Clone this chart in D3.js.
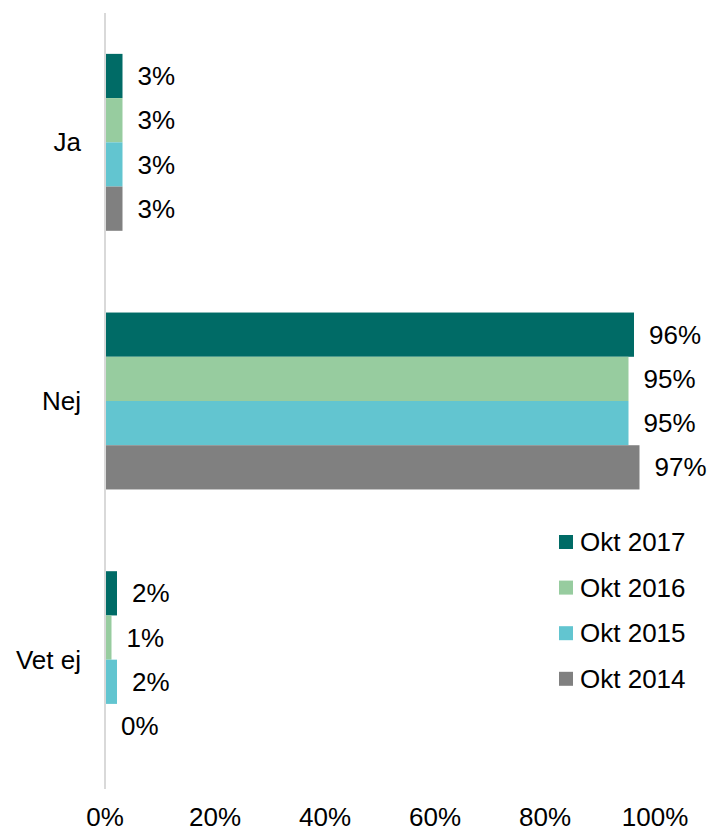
<!DOCTYPE html>
<html>
<head>
<meta charset="utf-8">
<script src="https://cdn.jsdelivr.net/npm/d3@7"></script>
<style>
  body { margin: 0; background: #fff; }
  text { font-family: "Liberation Sans", Arial, sans-serif; fill: #000; }
</style>
</head>
<body>
<svg id="chart" width="707" height="832"></svg>
<script>
const categories = ["Ja", "Nej", "Vet ej"];
const seriesNames = ["Okt 2017", "Okt 2016", "Okt 2015", "Okt 2014"];
const okt2017 = [3, 96, 2];
const okt2016 = [3, 95, 1];
const okt2015 = [3, 95, 2];
const okt2014 = [3, 97, 0];
const xTicks = [0, 20, 40, 60, 80, 100];

const seriesValues = [okt2017, okt2016, okt2015, okt2014];
const colors = ["#006b66", "#97cc9f", "#62c5d0", "#808080"];

const svg = d3.select("#chart");

const x = d3.scaleLinear().domain([0, 100]).range([105, 655]);
const y = d3.scaleBand().domain(categories).range([13, 789])
    .paddingInner(0.316).paddingOuter(0.158);
const ySub = d3.scaleBand().domain(seriesNames).range([0, y.bandwidth()]);

// axis line
svg.append("line")
    .attr("x1", x(0)).attr("x2", x(0))
    .attr("y1", 13).attr("y2", 789)
    .attr("stroke", "#d9d9d9").attr("stroke-width", 2);

const rows = [];
categories.forEach((c, ci) => {
    seriesNames.forEach((s, si) => {
        rows.push({ cat: c, series: s, value: seriesValues[si][ci], color: colors[si] });
    });
});

svg.append("g").selectAll("rect").data(rows).join("rect")
    .attr("x", x(0) + 1)
    .attr("y", d => y(d.cat) + ySub(d.series))
    .attr("width", d => Math.max(0, x(d.value) - x(0)))
    .attr("height", ySub.bandwidth())
    .attr("fill", d => d.color);

svg.append("g").selectAll("text").data(rows).join("text")
    .attr("x", d => x(d.value) + 16)
    .attr("y", d => y(d.cat) + ySub(d.series) + ySub.bandwidth() / 2)
    .attr("dy", "0.35em")
    .attr("font-size", 26)
    .text(d => d.value + "%");

// category labels
svg.append("g").selectAll("text").data(categories).join("text")
    .attr("x", 81)
    .attr("y", d => y(d) + y.bandwidth() / 2)
    .attr("dy", "0.35em")
    .attr("text-anchor", "end")
    .attr("font-size", 26)
    .text(d => d);

// x tick labels (kept just inside the bottom edge)
svg.append("g").selectAll("text").data(xTicks).join("text")
    .attr("x", d => x(d))
    .attr("y", 826)
    .attr("text-anchor", "middle")
    .attr("font-size", 26)
    .text(d => d + "%");

// legend
const legend = svg.append("g").selectAll("g").data(seriesNames).join("g")
    .attr("transform", (d, i) => `translate(559, ${542 + i * 45.6})`);
legend.append("rect")
    .attr("x", 0).attr("y", -7).attr("width", 14).attr("height", 14)
    .attr("fill", (d, i) => colors[i]);
legend.append("text")
    .attr("x", 21).attr("y", 0).attr("dy", "0.35em")
    .attr("font-size", 26)
    .text(d => d);
</script>
</body>
</html>
